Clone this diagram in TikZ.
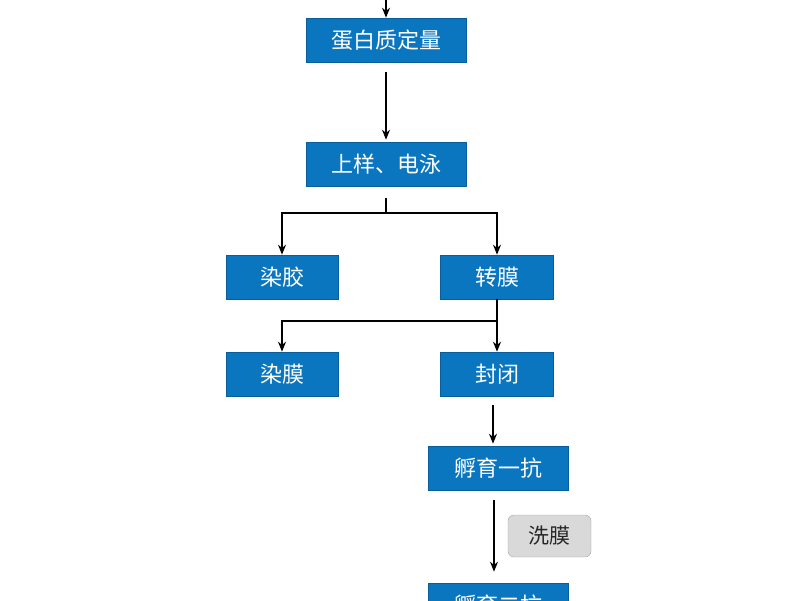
\documentclass[tikz,border=0pt]{standalone}
\usepackage{fontspec}
\newfontfamily\cjk{Noto Sans CJK SC}
\usetikzlibrary{arrows.meta}
\definecolor{bx}{HTML}{0A76C0}
\begin{document}
\begin{tikzpicture}[x=1pt,y=-1pt,
  box/.style={fill=bx,draw=bx!80!black,line width=0.6pt,minimum height=44pt,text=white,font=\cjk\fontsize{22}{26}\selectfont,inner sep=0pt},
  gbox/.style={fill=gray!30,draw=gray!70,rounded corners=6pt,minimum width=83pt,minimum height=42pt,font=\cjk\fontsize{21}{24}\selectfont,text=black!85},
  ar/.style={line width=1.3pt,-{Stealth[length=10pt,width=8pt]}},
  ln/.style={line width=1.3pt}]
\useasboundingbox (0,0) rectangle (800,600);
\clip (0,0) rectangle (800,600);
\node[box,minimum width=160pt] (a) at (386,40) {蛋白质定量};
\node[box,minimum width=160pt] (b) at (386,164) {上样、电泳};
\node[box,minimum width=112pt] (c) at (282,277) {染胶};
\node[box,minimum width=113pt] (d) at (497,277) {转膜};
\node[box,minimum width=112pt] (e) at (282,374) {染膜};
\node[box,minimum width=113pt] (f) at (497,374) {封闭};
\node[box,minimum width=140pt] (g) at (498,468) {孵育一抗};
\node[box,minimum width=140pt] (h) at (498,605) {孵育二抗};
\node[gbox] (w) at (549.5,536) {洗膜};
\coordinate (top) at (386,0);
\coordinate (j1) at (386,213);
\coordinate (j2) at (497,321);
\draw[ar] (top) -- (a.north);
\draw[ar] ([yshift=-10pt]a.south) -- ([yshift=2pt]b.north);
\draw[ln] ([yshift=-12pt]b.south) -- (j1);
\draw[ar] (j1) -| (c.north);
\draw[ar] (j1) -| (d.north);
\draw[ln] (d.south) -- (j2);
\draw[ar] (j2) -| (e.north);
\draw[ar] (j2) -- (f.north);
\draw[ar] ([xshift=-4pt,yshift=-9pt]f.south) -- ([xshift=-5pt,yshift=2pt]g.north);
\draw[ar] ([xshift=-4pt,yshift=-10pt]g.south) -- ([xshift=-4pt,yshift=11pt]h.north);
\end{tikzpicture}
\end{document}
